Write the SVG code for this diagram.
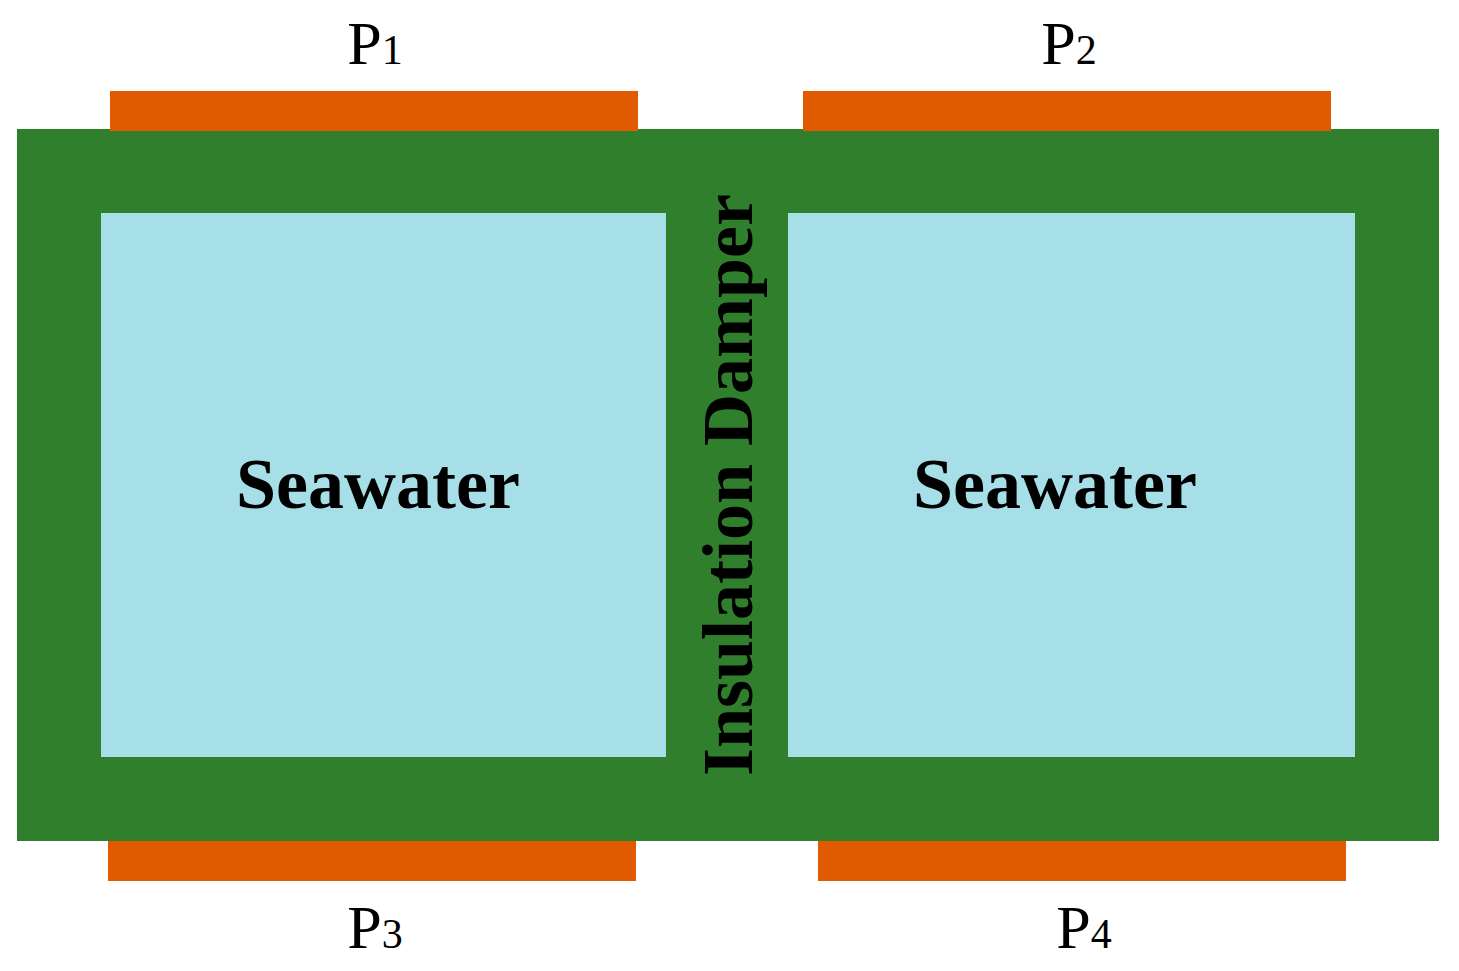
<svg xmlns="http://www.w3.org/2000/svg" width="1459" height="971" viewBox="0 0 1459 971">
<style>
.o{fill:#e05a00}.w{fill:#a6dfe8}
.p{font-family:"Liberation Serif",serif;font-size:62px;fill:#000}
.s{font-family:"Liberation Serif",serif;font-size:72px;font-weight:bold;fill:#000}
</style>
<rect width="1459" height="971" fill="#fff"/>
<g id="frame"><rect x="17" y="129" width="1422" height="712" fill="#2f7f2d"/></g>
<g id="tankL"><rect class="w" x="101" y="213" width="565" height="544"/><text class="s" x="378" y="508" text-anchor="middle">Seawater</text></g>
<g id="tankR"><rect class="w" x="788" y="213" width="567" height="544"/><text class="s" x="1055" y="508" text-anchor="middle">Seawater</text></g>
<g id="damper"><text class="s" transform="translate(752,485) rotate(-90)" text-anchor="middle">Insulation Damper</text></g>
<g id="P1"><rect class="o" x="110" y="91" width="528" height="40"/><text class="p" x="375" y="64" text-anchor="middle">P<tspan font-size="42">1</tspan></text></g>
<g id="P2"><rect class="o" x="803" y="91" width="528" height="40"/><text class="p" x="1069" y="64" text-anchor="middle">P<tspan font-size="42">2</tspan></text></g>
<g id="P3"><rect class="o" x="108" y="841" width="528" height="40"/><text class="p" x="375" y="948" text-anchor="middle">P<tspan font-size="42">3</tspan></text></g>
<g id="P4"><rect class="o" x="818" y="841" width="528" height="40"/><text class="p" x="1084" y="948" text-anchor="middle">P<tspan font-size="42">4</tspan></text></g>
<g id="connectors"/>
</svg>
